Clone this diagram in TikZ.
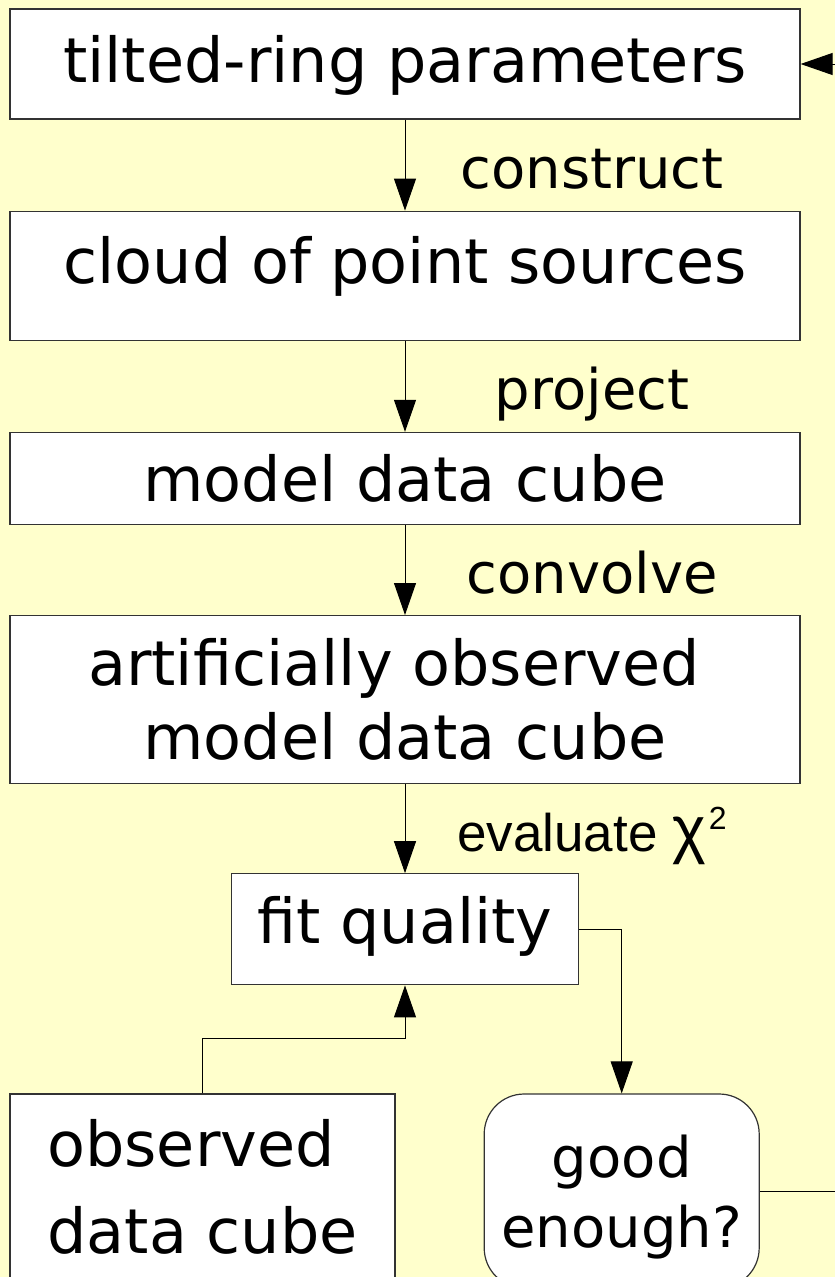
\documentclass[tikz,border=0pt]{standalone}
\usepackage{fontspec}
\setmainfont{DejaVu Sans}
\newfontfamily\chifont{Liberation Sans}
\usetikzlibrary{positioning,arrows.meta}
\definecolor{paper}{HTML}{FFFFCC}
\newcommand\stagefont{\fontsize{62}{74.4}\selectfont}
\newcommand\actionfont{\fontsize{56}{67}\selectfont}
\newcommand\chisq{{\fontsize{64}{64}\selectfont χ}\hspace{3pt}\raisebox{22pt}{\fontsize{32}{32}\selectfont 2}}
\tikzset{>={Triangle[length=32pt,width=22pt]}}
\tikzstyle{stage}  = [draw=black!80,
                      line width=1.2pt,
                      fill=white,
                      minimum width=790pt,
                      text height=47pt,
                      font=\stagefont]
\tikzstyle{arrow}  = [->,
                      line width=1pt]
\tikzstyle{action} = [anchor=base,
                      xshift=187pt,
                      yshift=22pt,
                      font=\actionfont]

\begin{document}
\begin{tikzpicture}[x=1pt, y=1pt]

  \useasboundingbox (0,0) rectangle (835,-1277);
  \clip (0,0) rectangle (835,-1277);
  \fill[paper] (0,0) rectangle (835,-1277);

  % Nodes
  \node[stage, minimum height=110pt, text depth=11pt] (params) at (405,-64) {tilted-ring parameters};
  \node[stage, minimum height=129pt, text depth=32pt, below=91pt of params] (cloud) {cloud of point sources};
  \node[stage, minimum height=92pt, text depth=0pt, below=91pt of cloud] (model) {model data cube};
  \node[stage, minimum height=168pt, text height=, align=center, below=90pt of model] (artobs)
    {artificially observed\hspace*{22pt}\\model data cube};
  \node[stage, minimum width=347pt, minimum height=111pt, text depth=18pt, below=89pt of artobs] (fit) {fit quality};
  \node[stage, minimum width=385pt, minimum height=186pt, text height=, align=left, anchor=north west]
    (data) at ([yshift=-108pt]fit.south -| params.west) {observed\\[12pt]data cube};
  \node[stage, rounded corners=40pt, minimum width=275pt, minimum height=194pt, text height=, text depth=0pt,
    align=center, font=\fontsize{56}{70}\selectfont,
    right=88pt of data.north east, anchor=north west] (good) {good\\enough?};
  \coordinate (loop) at (860,0);

  % Edges
  \draw[arrow] (params) -- node[action, pos=1] {construct} (cloud);
  \draw[arrow] (cloud) -- node[action, pos=1] {project} (model);
  \draw[arrow] (model) -- node[action, pos=1] {convolve} (artobs);
  \draw[arrow] (artobs) -- node[action, pos=1, font=\chifont\fontsize{53}{62}\selectfont]
    {evaluate \chisq} (fit);
  \draw[arrow] (data.north) -- ++(0,54.5) -| (fit.south);
  \draw[arrow] (fit.east) -| (good.north);
  \draw[arrow] (good.east) -- (good.east -| loop) -- (params.east -| loop) -- (params.east);

\end{tikzpicture}
\end{document}
